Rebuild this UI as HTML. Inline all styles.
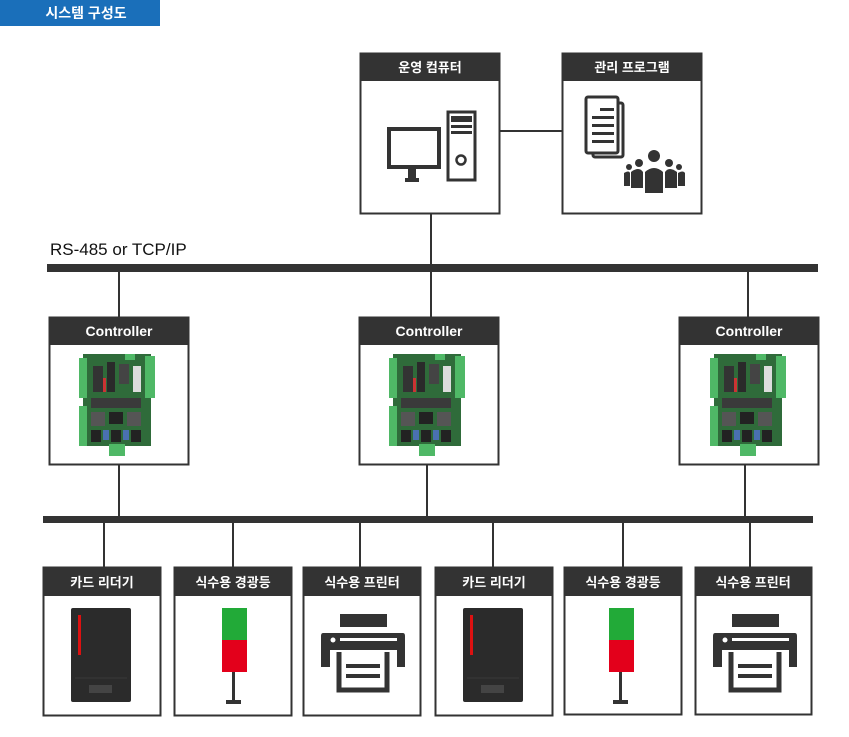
<!DOCTYPE html>
<html><head><meta charset="utf-8"><style>
html,body{margin:0;padding:0;background:#fff;}
svg{display:block;}
.h{font-family:"Liberation Sans","Noto Sans CJK KR",sans-serif;font-weight:bold;font-size:13px;fill:#fff;text-anchor:middle;}
</style></head><body>
<svg width="849" height="737" viewBox="0 0 849 737" xmlns="http://www.w3.org/2000/svg">
<defs>
<symbol id="pcb" viewBox="0 0 76 104" width="76" height="104">
<rect x="4" y="2" width="68" height="92" fill="#2f6b3a"/>
<rect x="0" y="6" width="8" height="40" fill="#4fb866"/>
<rect x="0" y="54" width="8" height="40" fill="#4fb866"/>
<rect x="66" y="4" width="10" height="42" fill="#4fb866"/>
<rect x="30" y="92" width="16" height="12" fill="#4fb866"/>
<rect x="46" y="2" width="10" height="6" fill="#4fb866"/>
<rect x="14" y="14" width="10" height="26" fill="#333"/>
<rect x="28" y="10" width="8" height="30" fill="#2a2a2a"/>
<rect x="40" y="12" width="10" height="20" fill="#444"/>
<rect x="54" y="14" width="8" height="26" fill="#ddd"/>
<rect x="12" y="46" width="50" height="10" fill="#3a3a3a"/>
<rect x="30" y="60" width="14" height="12" fill="#222"/>
<rect x="12" y="60" width="14" height="14" fill="#555"/>
<rect x="48" y="60" width="14" height="14" fill="#555"/>
<rect x="12" y="78" width="10" height="12" fill="#222"/>
<rect x="24" y="78" width="6" height="10" fill="#4a70b0"/>
<rect x="32" y="78" width="10" height="12" fill="#222"/>
<rect x="44" y="78" width="6" height="10" fill="#4a70b0"/>
<rect x="52" y="78" width="10" height="12" fill="#222"/>
<rect x="24" y="26" width="3" height="14" fill="#c33"/>
</symbol>
</defs>

<!-- title -->
<rect x="0" y="0" width="160" height="26" fill="#1a6fba"/>
<text x="86" y="18" class="h" style="font-size:14px">시스템 구성도</text>

<g stroke="#333" fill="none">
<!-- top boxes -->
<rect x="360.5" y="53.5" width="139" height="160" stroke-width="2"/>
<rect x="562.5" y="53.5" width="139" height="160" stroke-width="2"/>
<line x1="500" y1="131" x2="562" y2="131" stroke-width="2"/>
<line x1="431" y1="214" x2="431" y2="268" stroke-width="2"/>
<!-- controller lines -->
<line x1="119" y1="268" x2="119" y2="318" stroke-width="2"/>
<line x1="431" y1="268" x2="431" y2="318" stroke-width="2"/>
<line x1="748" y1="268" x2="748" y2="318" stroke-width="2"/>
<line x1="119" y1="465" x2="119" y2="519" stroke-width="2"/>
<line x1="427" y1="465" x2="427" y2="519" stroke-width="2"/>
<line x1="745" y1="465" x2="745" y2="519" stroke-width="2"/>
<rect x="49.5" y="317.5" width="139" height="147" stroke-width="2"/>
<rect x="359.5" y="317.5" width="139" height="147" stroke-width="2"/>
<rect x="679.5" y="317.5" width="139" height="147" stroke-width="2"/>
<!-- device lines -->
<line x1="104" y1="519" x2="104" y2="568" stroke-width="2"/>
<line x1="233" y1="519" x2="233" y2="568" stroke-width="2"/>
<line x1="360" y1="519" x2="360" y2="568" stroke-width="2"/>
<line x1="493" y1="519" x2="493" y2="568" stroke-width="2"/>
<line x1="623" y1="519" x2="623" y2="568" stroke-width="2"/>
<line x1="750" y1="519" x2="750" y2="568" stroke-width="2"/>
<rect x="43.5" y="567.5" width="117" height="148" stroke-width="2"/>
<rect x="174.5" y="567.5" width="117" height="148" stroke-width="2"/>
<rect x="303.5" y="567.5" width="117" height="148" stroke-width="2"/>
<rect x="435.5" y="567.5" width="117" height="148" stroke-width="2"/>
<rect x="564.5" y="567.5" width="117" height="147" stroke-width="2"/>
<rect x="695.5" y="567.5" width="116" height="147" stroke-width="2"/>
</g>

<!-- buses -->
<rect x="47" y="264" width="771" height="8" fill="#333"/>
<rect x="43" y="516" width="770" height="7" fill="#333"/>
<text x="50" y="255" font-family="Liberation Sans, sans-serif" font-size="17" fill="#111">RS-485 or TCP/IP</text>

<!-- headers -->
<g fill="#333">
<rect x="360" y="53" width="140" height="28"/>
<rect x="562" y="53" width="140" height="28"/>
<rect x="49" y="317" width="140" height="28"/>
<rect x="359" y="317" width="140" height="28"/>
<rect x="679" y="317" width="140" height="28"/>
<rect x="43" y="567" width="118" height="29"/>
<rect x="174" y="567" width="118" height="29"/>
<rect x="303" y="567" width="118" height="29"/>
<rect x="435" y="567" width="118" height="29"/>
<rect x="564" y="567" width="118" height="29"/>
<rect x="695" y="567" width="117" height="29"/>
</g>
<text x="430" y="72" class="h">운영 컴퓨터</text>
<text x="632" y="72" class="h">관리 프로그램</text>
<text x="119" y="336" class="h" style="font-size:14px">Controller</text>
<text x="429" y="336" class="h" style="font-size:14px">Controller</text>
<text x="749" y="336" class="h" style="font-size:14px">Controller</text>
<text x="102" y="587" class="h">카드 리더기</text>
<text x="233" y="587" class="h">식수용 경광등</text>
<text x="362" y="587" class="h">식수용 프린터</text>
<text x="494" y="587" class="h">카드 리더기</text>
<text x="623" y="587" class="h">식수용 경광등</text>
<text x="753" y="587" class="h">식수용 프린터</text>

<!-- computer icon -->
<rect x="389" y="129" width="50" height="38" fill="none" stroke="#333" stroke-width="4"/>
<rect x="408" y="169" width="8" height="10" fill="#333"/>
<rect x="405" y="178" width="14" height="4" fill="#333"/>
<rect x="448" y="112" width="27" height="68" fill="none" stroke="#333" stroke-width="3"/>
<rect x="451" y="116" width="21" height="6" fill="#333"/>
<rect x="451" y="125" width="21" height="3" fill="#333"/>
<rect x="451" y="131" width="21" height="3" fill="#333"/>
<circle cx="461" cy="160" r="4.5" fill="none" stroke="#333" stroke-width="2.5"/>

<!-- program icon -->
<rect x="593" y="103" width="30" height="54" rx="2" fill="none" stroke="#333" stroke-width="3"/>
<rect x="586" y="97" width="32" height="56" rx="2" fill="#fff" stroke="#333" stroke-width="3"/>
<g fill="#333"><rect x="600" y="108" width="14" height="3"/><rect x="592" y="116" width="22" height="3"/><rect x="592" y="124" width="22" height="3"/><rect x="592" y="132" width="22" height="3"/><rect x="592" y="140" width="22" height="3"/>
<circle cx="654" cy="156" r="6"/><circle cx="639" cy="163" r="4"/><circle cx="669" cy="163" r="4"/><circle cx="629" cy="167" r="3"/><circle cx="679" cy="167" r="3"/>
<path d="M645 193 L645 172 Q654 164 663 172 L663 193Z"/>
<path d="M631 188 L631 172 Q639 166 643 172 L643 188Z"/><path d="M665 188 L665 172 Q669 166 677 172 L677 188Z"/>
<path d="M624 186 L624 173 Q629 170 630 173 L630 186Z"/><path d="M678 186 L678 173 Q683 170 685 173 L685 186Z"/></g>

<!-- controllers boards -->
<use href="#pcb" x="79" y="352"/>
<use href="#pcb" x="389" y="352"/>
<use href="#pcb" x="710" y="352"/>

<!-- card readers -->
<g><rect x="71" y="608" width="60" height="94" rx="2" fill="#2b2b2b"/><rect x="78" y="615" width="3" height="40" fill="#d11"/><rect x="89" y="685" width="23" height="8" fill="#444"/><line x1="75" y1="678" x2="127" y2="678" stroke="#3a3a3a"/></g>
<g transform="translate(392,0)"><rect x="71" y="608" width="60" height="94" rx="2" fill="#2b2b2b"/><rect x="78" y="615" width="3" height="40" fill="#d11"/><rect x="89" y="685" width="23" height="8" fill="#444"/><line x1="75" y1="678" x2="127" y2="678" stroke="#3a3a3a"/></g>

<!-- lights -->
<g><rect x="222" y="608" width="25" height="32" fill="#22aa38"/><rect x="222" y="640" width="25" height="32" fill="#e3001b"/><rect x="232" y="672" width="3" height="30" fill="#333"/><rect x="226" y="700" width="15" height="4" fill="#333"/></g>
<g transform="translate(387,0)"><rect x="222" y="608" width="25" height="32" fill="#22aa38"/><rect x="222" y="640" width="25" height="32" fill="#e3001b"/><rect x="232" y="672" width="3" height="30" fill="#333"/><rect x="226" y="700" width="15" height="4" fill="#333"/></g>

<!-- printers -->
<g id="pr"><rect x="340" y="614" width="47" height="13" fill="#333"/><path d="M323 633 H403 Q405 633 405 636 V667 H397 V650 H330 V667 H321 V636 Q321 633 323 633Z" fill="#333"/><circle cx="333" cy="640" r="2.5" fill="#fff"/><rect x="340" y="638" width="57" height="3" fill="#fff"/><path d="M339 652 V690 H387 V652" fill="none" stroke="#333" stroke-width="5"/><rect x="346" y="664" width="34" height="4" fill="#333"/><rect x="346" y="674" width="34" height="4" fill="#333"/></g>
<g transform="translate(392,0)"><rect x="340" y="614" width="47" height="13" fill="#333"/><path d="M323 633 H403 Q405 633 405 636 V667 H397 V650 H330 V667 H321 V636 Q321 633 323 633Z" fill="#333"/><circle cx="333" cy="640" r="2.5" fill="#fff"/><rect x="340" y="638" width="57" height="3" fill="#fff"/><path d="M339 652 V690 H387 V652" fill="none" stroke="#333" stroke-width="5"/><rect x="346" y="664" width="34" height="4" fill="#333"/><rect x="346" y="674" width="34" height="4" fill="#333"/></g>
</svg>
</body></html>
